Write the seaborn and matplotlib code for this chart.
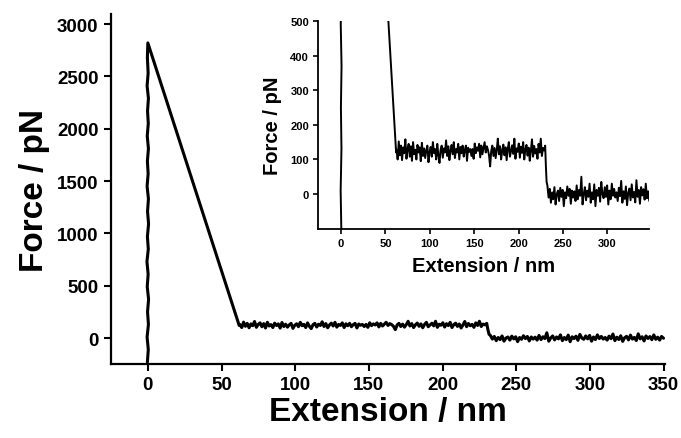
import numpy as np
import pandas as pd
import matplotlib
matplotlib.use("Agg")
import matplotlib.pyplot as plt
import seaborn as sns

# ---- data ----
approach_ext = [-0.3, 0.3, -0.5, 0.4, -0.2, 0.5, -0.4, 0.2, -0.6, 0.3, -0.3, 0.5, -0.2, 0.4,
                -0.5, 0.2, -0.3, 0.4, -0.4, 0.3, -0.2, 0.4, -0.5, 0.2, -0.3, 0.0]
approach_force = [-230, -110, 10, 130, 250, 370, 490, 610, 730, 850, 970, 1090, 1210, 1330,
                  1450, 1570, 1690, 1810, 1930, 2050, 2170, 2290, 2410, 2530, 2680, 2820]

retract_ext = [0.0, 62.0]
retract_force = [2820, 120]

plateau1_range = (62.5, 230.0)
plateau1_force = [128, 100, 152, 112, 140, 98, 135, 118, 158, 102, 130, 145, 108, 138, 96, 150,
                  115, 128, 100, 142, 120, 135, 95, 148, 110, 132, 104, 126, 140, 92, 122, 136,
                  108, 150, 118, 130, 100, 145, 112, 90, 128, 140, 105, 132, 120, 155, 110, 138,
                  98, 125, 142, 115, 150, 104, 130, 120, 145, 100, 136, 118, 140, 108, 128, 140,
                  96, 134, 122, 130, 110, 130, 102, 146, 118, 135, 125, 145, 106, 140, 115, 132,
                  150, 120, 138, 128, 112, 80, 125, 140, 110, 133, 104, 128, 160, 115, 138, 100,
                  126, 143, 112, 135, 98, 130, 150, 108, 124, 141, 116, 160, 102, 132, 122, 146,
                  105, 137, 119, 150, 100, 128, 142, 111, 134, 96, 125, 158, 108, 139, 117, 130,
                  102, 145, 120, 160, 110, 133, 126, 140]

rupture_ext = [230.8, 231.6]
rupture_force = [80, 35]

plateau2_range = (232.5, 350.0)
plateau2_force = [25, -10, 15, -25, 5, -15, 20, -30, 0, 10, -20, 18, -8, 12, -35, 5, -12, 22,
                  -5, 15, -28, 10, -10, 8, -20, 25, -15, 12, -5, 50, -30, 0, 20, -18, 10, -8,
                  30, -25, 5, -15, 28, -35, 12, -5, 18, -22, 35, 0, -12, 20, -8, 25, -30, 10,
                  -15, 30, -5, 15, -10, 5, -20, 18, -6, 38, -25, 8, -14, 22, -32, 3, 16, -18,
                  28, -10, 6, -24, 40, -8, 12, -28, 20, -4, 14, -16, 30, -12, 8, -20, 15, -2]

main_xticks = [0, 50, 100, 150, 200, 250, 300, 350]
main_yticks = [0, 500, 1000, 1500, 2000, 2500, 3000]
inset_xticks = [0, 50, 100, 150, 200, 250, 300]
inset_yticks = [0, 100, 200, 300, 400, 500]

# ---- assemble trace ----
p1_ext = np.linspace(plateau1_range[0], plateau1_range[1], len(plateau1_force))
p2_ext = np.linspace(plateau2_range[0], plateau2_range[1], len(plateau2_force))
ext = list(approach_ext) + retract_ext[1:] + list(p1_ext) + rupture_ext + list(p2_ext)
force = list(approach_force) + retract_force[1:] + plateau1_force + rupture_force + plateau2_force
df = pd.DataFrame({"ext": ext, "force": force})

sns.set_theme(style="ticks")
plt.rcParams["font.family"] = ["Liberation Sans", "DejaVu Sans"]
plt.rcParams["font.weight"] = "bold"
plt.rcParams["text.color"] = "black"
plt.rcParams["axes.labelcolor"] = "black"
plt.rcParams["xtick.color"] = "black"
plt.rcParams["ytick.color"] = "black"

fig = plt.figure(figsize=(6.81, 4.39), dpi=100)
ax = fig.add_axes([0.163, 0.1686, 0.8135, 0.797])
sns.lineplot(data=df, x="ext", y="force", sort=False, estimator=None, color="black",
             linewidth=2.2, ax=ax)
ax.set_xlim(-25, 351)
ax.set_ylim(-248, 3095)
ax.set_xticks(main_xticks)
ax.set_yticks(main_yticks)
ax.set_xlabel("Extension / nm", fontsize=24, fontweight="bold", labelpad=2, color="black")
ax.set_ylabel("Force / pN", fontsize=24, fontweight="bold", labelpad=5, color="black")
ax.tick_params(axis="both", direction="out", length=5, width=1.5, labelsize=13.5,
               colors="black", pad=4)
for lab in ax.get_xticklabels() + ax.get_yticklabels():
    lab.set_fontweight("bold")
for s in ["top", "right"]:
    ax.spines[s].set_visible(False)
for s in ["left", "bottom"]:
    ax.spines[s].set_linewidth(1.6)
    ax.spines[s].set_color("black")

# ---- inset ----
ins = fig.add_axes([0.467, 0.476, 0.486, 0.474])
sns.lineplot(data=df, x="ext", y="force", sort=False, estimator=None, color="black",
             linewidth=1.4, ax=ins)
ins.set_xlim(-26, 347)
ins.set_ylim(-101, 500)
ins.set_xticks(inset_xticks)
ins.set_yticks(inset_yticks)
ins.set_xlabel("Extension / nm", fontsize=14.5, fontweight="bold", labelpad=6, color="black")
ins.set_ylabel("Force / pN", fontsize=14.5, fontweight="bold", labelpad=6, color="black")
ins.tick_params(axis="both", direction="out", length=3.5, width=1.2, labelsize=8,
                colors="black", pad=3)
for lab in ins.get_xticklabels() + ins.get_yticklabels():
    lab.set_fontweight("bold")
for s in ["top", "right"]:
    ins.spines[s].set_visible(False)
for s in ["left", "bottom"]:
    ins.spines[s].set_linewidth(1.3)
    ins.spines[s].set_color("black")
ins.patch.set_alpha(0)

fig.savefig("out.png", dpi=100)
